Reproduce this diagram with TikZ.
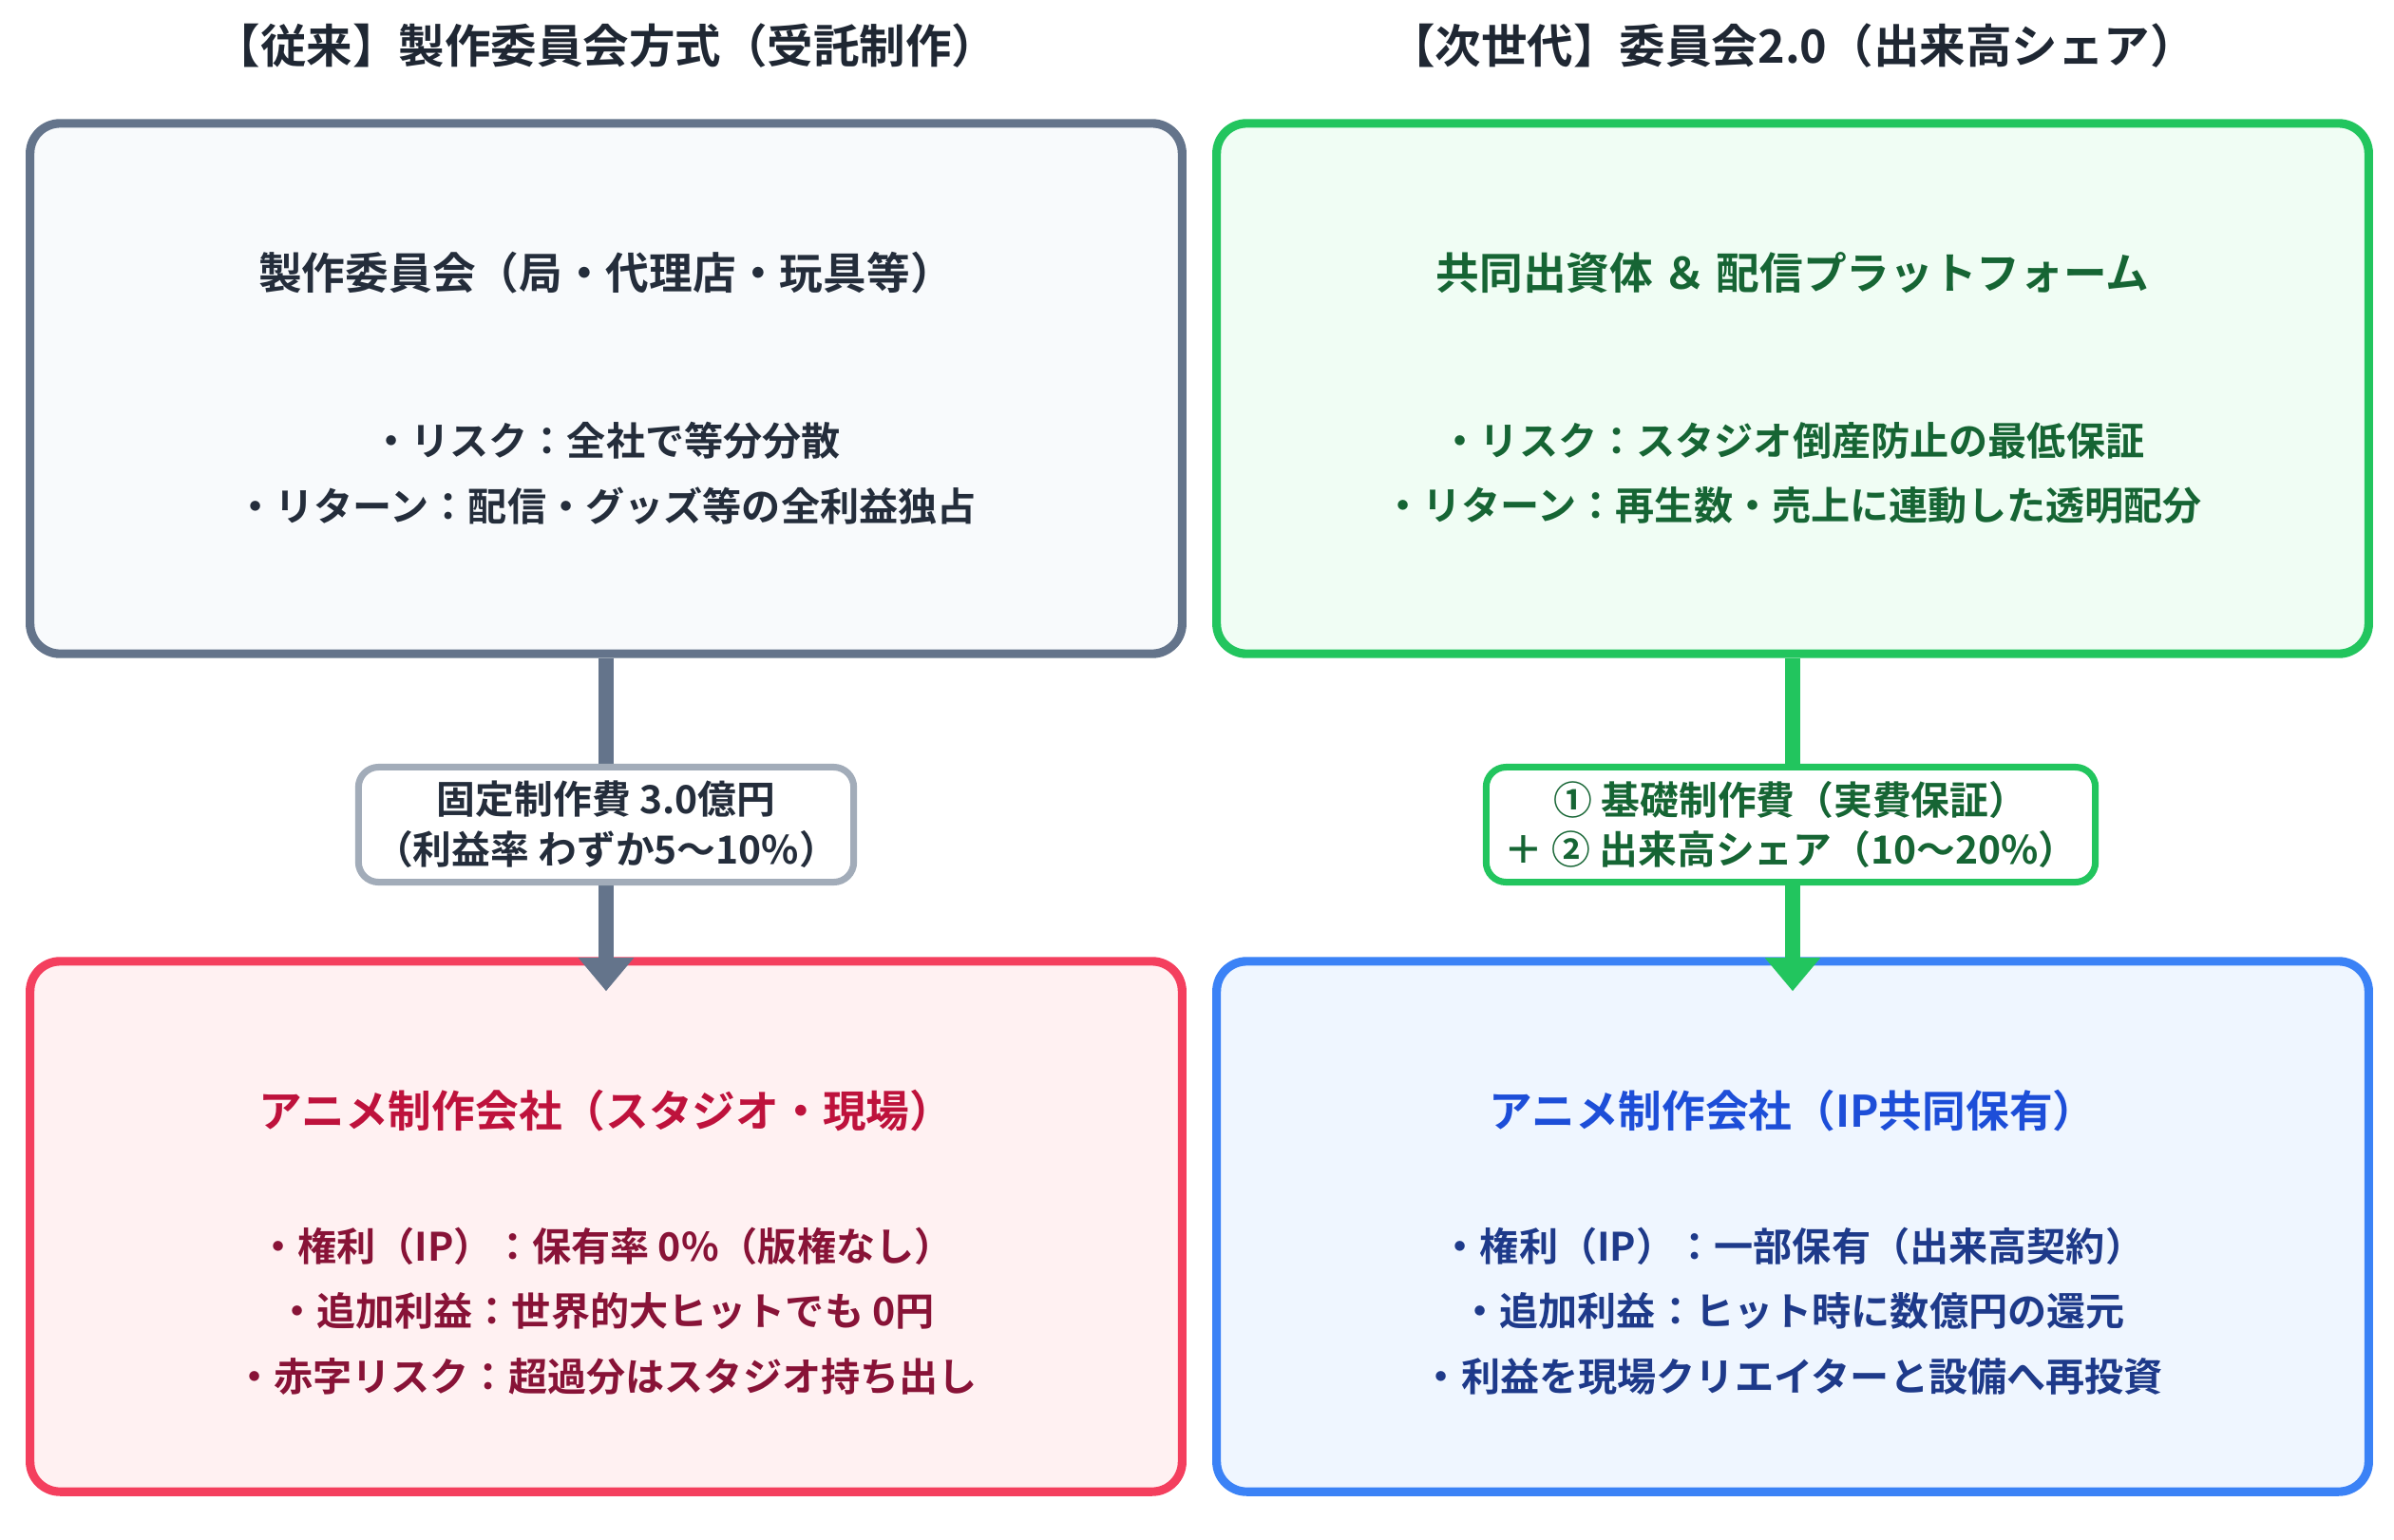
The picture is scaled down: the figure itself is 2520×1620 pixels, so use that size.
\documentclass[tikz,border=0pt]{standalone}
\usepackage{fontspec}
\setmainfont{Noto Sans CJK JP}[BoldFont={Noto Sans CJK JP Bold}]
\usetikzlibrary{positioning}
\usetikzlibrary{arrows.meta}

\definecolor{slateline}{HTML}{64748B}
\definecolor{slatefill}{HTML}{F8FAFC}
\definecolor{slatetext}{HTML}{334155}
\definecolor{greenline}{HTML}{22C55E}
\definecolor{greenfill}{HTML}{F0FDF4}
\definecolor{greentext}{HTML}{166534}
\definecolor{redline}{HTML}{F43F5E}
\definecolor{redfill}{HTML}{FFF1F2}
\definecolor{redhead}{HTML}{BE123C}
\definecolor{redtext}{HTML}{881337}
\definecolor{blueline}{HTML}{3B82F6}
\definecolor{bluefill}{HTML}{EFF6FF}
\definecolor{bluehead}{HTML}{1D4ED8}
\definecolor{bluetext}{HTML}{1E3A8A}

\tikzset{
	panel/.style={rectangle,draw,rounded corners=9pt,line width=2.6pt,minimum width=12.12cm,minimum height=5.58cm},
	flow/.style={line width=4.5pt,-{Triangle[length=10pt,width=16pt]}},
	tag/.style={rectangle,draw,fill=white,rounded corners=6pt,line width=2pt,align=center,font=\bfseries\fontsize{11.6}{15}\selectfont,minimum width=5.21cm,minimum height=1.21cm,inner sep=2pt},
	title/.style={font=\bfseries\fontsize{13.8}{16}\selectfont,text=slatetext!60!black},
	head/.style={font=\bfseries\fontsize{13}{16}\selectfont},
	body/.style={font=\bfseries\fontsize{11.7}{19.5}\selectfont,align=center}
}

\begin{document}
\begin{tikzpicture}[x=0.01cm,y=-0.01cm]
	\useasboundingbox (0,0) rectangle (2520,1620);
	% titles
	\node [title] (lt) at (638,48) {【従来】製作委員会方式（受託制作）};
	\node [title] (rt) at (1887,48) {【次世代】委員会2.0（出来高シェア）};
	% panels
	\node [panel,draw=slateline,fill=slatefill] (old) at (638,409) {};
	\node [panel,draw=greenline,fill=greenfill] (new) at (1887,409) {};
	\node [panel,draw=redline,fill=redfill] (studio) at (638,1291) {};
	\node [panel,draw=blueline,fill=bluefill] (studio2) at (1887,1291) {};
	% flows
	\draw [flow,slateline] (old.south) -- ([yshift=-0.36cm]studio.north);
	\draw [flow,greenline] (new.south) -- ([yshift=-0.36cm]studio2.north);
	\node [tag,draw=slateline!60,text=slatetext!70!black] (fee) at (638,868) {固定制作費 3.0億円\\（利益率 わずか5〜10\%）};
	\node [tag,draw=greenline,text=greentext,minimum width=6.41cm] (fee2) at (1885,868) {① 基礎制作費（実費保証）\\＋ ② 出来高シェア（10〜20\%）};
	% texts
	\node [head,text=slatetext!70!black] (oldh) at (638,287) {製作委員会（局・代理店・玩具等）};
	\node [body,text=slatetext!70!black] (oldb) at (638,498) {・リスク：全社で等分分散\\・リターン：配信・グッズ等の全利益独占};
	\node [head,text=greentext] (newh) at (1887,287) {共同出資体 ＆ 配信プラットフォーム};
	\node [body,text=greentext] (newb) at (1887,498) {・リスク：スタジオ倒産防止の最低保証\\・リターン：再生数・売上に連動した透明配分};
	\node [head,text=redhead] (sh) at (638,1169) {アニメ制作会社（スタジオ・現場）};
	\node [body,text=redtext] (sb) at (638,1380) {・権利（IP）：保有率 0\%（版権なし）\\・追加利益：世界的大ヒットでも 0円\\・赤字リスク：超過分はスタジオ持ち出し};
	\node [head,text=bluehead] (s2h) at (1887,1169) {アニメ制作会社（IP共同保有）};
	\node [body,text=bluetext] (s2b) at (1887,1380) {・権利（IP）：一部保有（出来高契約）\\・追加利益：ヒット時に数億円の還元\\・利益を現場クリエイターと設備へ再投資};
\end{tikzpicture}
\end{document}
